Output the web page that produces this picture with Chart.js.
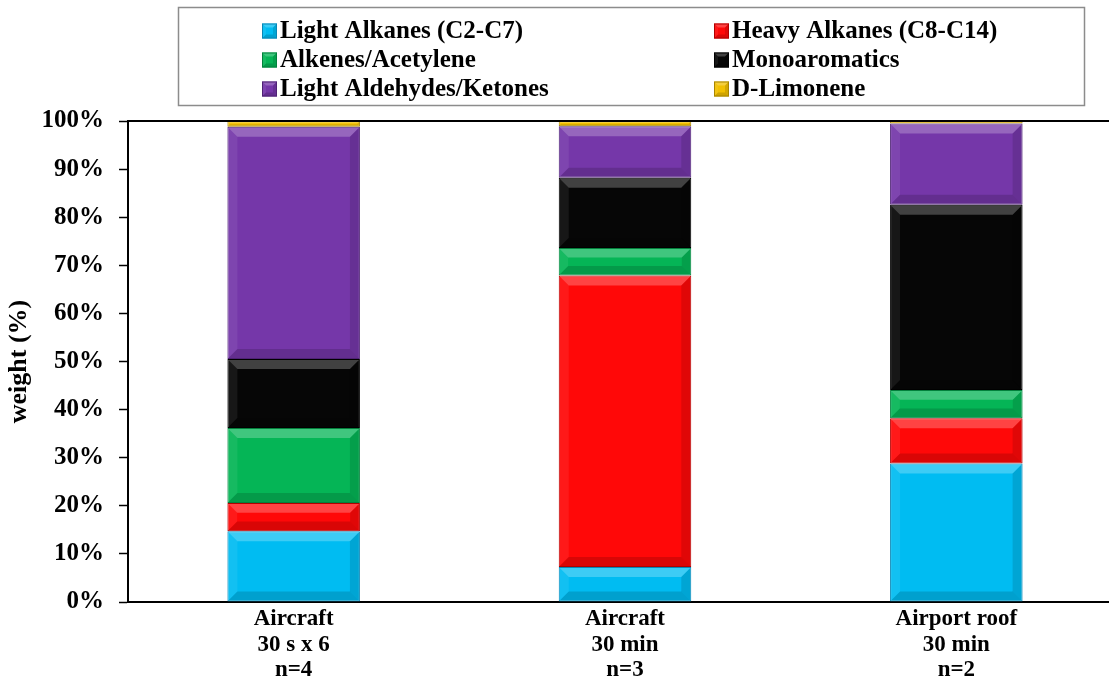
<!DOCTYPE html>
<html>
<head>
<meta charset="utf-8">
<script src="https://cdn.jsdelivr.net/npm/chart.js@4.4.1/dist/chart.umd.min.js"></script>
<style>
  html, body { margin: 0; padding: 0; background: #fff; overflow: hidden; width: 1109px; height: 685px; }
  canvas { display: block; }
</style>
</head>
<body>
<canvas id="c" width="1125" height="685"></canvas>
<script>
// Sampling sites (multi-line axis labels)
const categories = [
  ['Aircraft', '30 s x 6', 'n=4'],
  ['Aircraft', '30 min', 'n=3'],
  ['Airport roof', '30 min', 'n=2']
];

// Weight fraction (%) of each compound class, stacked bottom to top
const lightAlkanes     = [14.7, 7.3, 28.8];
const heavyAlkanes     = [5.9, 60.6, 9.4];
const alkenesAcetylene = [15.6, 5.7, 5.9];
const monoaromatics    = [14.3, 14.6, 38.5];
const aldehydesKetones = [48.3, 10.7, 16.9];
const dLimonene        = [1.2, 1.1, 0.5];

const seriesNames = [
  'Light Alkanes (C2-C7)',
  'Heavy Alkanes (C8-C14)',
  'Alkenes/Acetylene',
  'Monoaromatics',
  'Light Aldehydes/Ketones',
  'D-Limonene'
];

// Y axis tick values (shown as percentages)
const yTickValues = [0, 10, 20, 30, 40, 50, 60, 70, 80, 90, 100];

const seriesValues = [lightAlkanes, heavyAlkanes, alkenesAcetylene, monoaromatics, aldehydesKetones, dLimonene];
const fills   = ['#00BCF2', '#FF0808', '#05B556', '#060606', '#7537A9', '#F2C000'];
const borders = ['#0A86B5', '#B00000', '#03803C', '#000000', '#4E2274', '#A88500'];

const SERIF = "'Liberation Serif', 'Times New Roman', serif";

// Beveled face drawn over a rectangle
function bevel(ctx, l, t, r, b, depth) {
  const w = r - l, h = b - t;
  const d = Math.min(depth, w / 2, h / 3);
  if (d < 1) return;
  const poly = (pts, color) => {
    ctx.beginPath();
    ctx.moveTo(pts[0][0], pts[0][1]);
    for (let i = 1; i < pts.length; i++) ctx.lineTo(pts[i][0], pts[i][1]);
    ctx.closePath();
    ctx.fillStyle = color;
    ctx.fill();
  };
  poly([[l, t], [r, t], [r - d, t + d], [l + d, t + d]], 'rgba(255,255,255,0.24)');
  poly([[l, t], [l + d, t + d], [l + d, b - d], [l, b]], 'rgba(255,255,255,0.07)');
  poly([[r, t], [r, b], [r - d, b - d], [r - d, t + d]], 'rgba(0,0,0,0.12)');
  poly([[l, b], [l + d, b - d], [r - d, b - d], [r, b]], 'rgba(0,0,0,0.15)');
}

const bevelPlugin = {
  id: 'bevelBars',
  afterDatasetsDraw(chart) {
    const ctx = chart.ctx;
    ctx.save();
    chart.data.datasets.forEach((ds, i) => {
      const meta = chart.getDatasetMeta(i);
      meta.data.forEach(bar => {
        const p = bar.getProps(['x', 'y', 'base', 'width'], true);
        const l = p.x - p.width / 2, r = p.x + p.width / 2;
        const t = Math.min(p.y, p.base), b = Math.max(p.y, p.base);
        bevel(ctx, l + 1, t + 1, r - 1, b - 1, 9);
      });
    });
    ctx.restore();
  }
};

// Plot frame: top edge of the plotting area
const framePlugin = {
  id: 'plotFrame',
  afterDraw(chart) {
    const { ctx, chartArea: a } = chart;
    ctx.save();
    ctx.strokeStyle = '#000';
    ctx.lineWidth = 2;
    ctx.beginPath();
    ctx.moveTo(a.left, a.top);
    ctx.lineTo(a.right, a.top);
    ctx.stroke();
    ctx.restore();
  }
};

// Boxed two-column legend above the plot
const legendPlugin = {
  id: 'boxLegend',
  afterDraw(chart) {
    const ctx = chart.ctx;
    ctx.save();
    ctx.strokeStyle = '#8C8C8C';
    ctx.lineWidth = 1.5;
    ctx.strokeRect(178.5, 7.5, 906, 98);
    const colX = [262, 714];
    const rowY = [31, 60, 89];
    ctx.font = 'bold 25px ' + SERIF;
    ctx.textBaseline = 'middle';
    ctx.textAlign = 'left';
    chart.data.datasets.forEach((ds, i) => {
      const x = colX[i % 2], y = rowY[Math.floor(i / 2)];
      const s = 15;
      ctx.fillStyle = ds.backgroundColor;
      ctx.fillRect(x, y - s / 2, s, s);
      bevel(ctx, x, y - s / 2, x + s, y + s / 2, 4);
      ctx.strokeStyle = ds.borderColor;
      ctx.lineWidth = 1;
      ctx.strokeRect(x + 0.5, y - s / 2 + 0.5, s - 1, s - 1);
      ctx.fillStyle = '#000';
      ctx.fillText(ds.label, x + s + 3, y + 1);
    });
    ctx.restore();
  }
};

new Chart(document.getElementById('c'), {
  type: 'bar',
  data: {
    labels: categories,
    datasets: seriesNames.map((name, i) => ({
      label: name,
      data: seriesValues[i],
      backgroundColor: fills[i],
      borderColor: borders[i],
      borderWidth: 1,
      borderSkipped: false,
      barPercentage: 0.4,
      categoryPercentage: 1.0
    }))
  },
  options: {
    responsive: false,
    animation: false,
    devicePixelRatio: 1,
    layout: { padding: { top: 121, left: 0, right: 3, bottom: 0 } },
    plugins: {
      legend: { display: false },
      tooltip: { enabled: false }
    },
    scales: {
      x: {
        stacked: true,
        grid: { display: false, drawTicks: false },
        border: { display: true, color: '#000', width: 2 },
        ticks: {
          color: '#000',
          padding: 5,
          maxRotation: 0,
          autoSkip: false,
          font: { family: SERIF, size: 23, weight: 'bold', lineHeight: 1.09 }
        },
        afterFit(scale) { scale.height = 83; }
      },
      y: {
        stacked: true,
        min: 0,
        max: 100,
        afterBuildTicks(scale) { scale.ticks = yTickValues.map(v => ({ value: v })); },
        grid: {
          display: true,
          drawOnChartArea: false,
          drawTicks: true,
          tickLength: 9,
          tickColor: '#000',
          tickWidth: 1.5
        },
        border: { display: true, color: '#000', width: 2 },
        ticks: {
          color: '#000',
          padding: 15,
          font: { family: SERIF, size: 25, weight: 'bold' },
          callback: v => v + '%'
        },
        title: {
          display: true,
          text: 'weight (%)',
          color: '#000',
          padding: { top: 4, bottom: 0 },
          font: { family: SERIF, size: 26, weight: 'bold' }
        },
        afterFit(scale) { scale.width = 128; }
      }
    }
  },
  plugins: [bevelPlugin, framePlugin, legendPlugin]
});
</script>
</body>
</html>
